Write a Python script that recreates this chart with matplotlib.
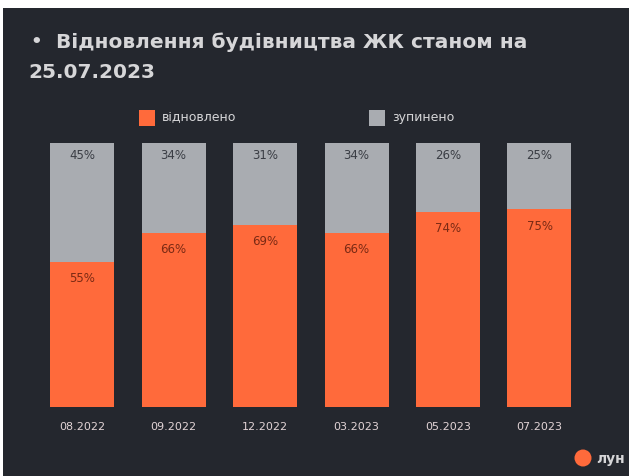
import matplotlib
matplotlib.use("Agg")
import matplotlib.pyplot as plt
from matplotlib.patches import Rectangle, Ellipse

periods = ["08.2022", "09.2022", "12.2022", "03.2023", "05.2023", "07.2023"]
restored = [55, 66, 69, 66, 74, 75]
stopped = [45, 34, 31, 34, 26, 25]

W, H = 631, 476
BG = "#24272e"
ORANGE = "#ff6a3b"
GREY = "#a9acb1"
TEXT = "#d6d6d8"

fig = plt.figure(figsize=(W / 100, H / 100), dpi=100)
fig.patch.set_facecolor("white")

def fx(px):
    return px / W

def fy(py):
    return 1 - py / H

# dark slide panel
fig.patches.append(Rectangle((fx(3), 0), fx(626), fy(8), transform=fig.transFigure,
                             facecolor=BG, edgecolor="none", zorder=-10))

# title
fig.text(fx(30), fy(42), "•", color=TEXT, fontsize=13, va="center", ha="left", fontweight="bold")
fig.text(fx(56), fy(42), "Відновлення будівництва ЖК станом на", color=TEXT,
         fontsize=14.5, va="center", ha="left", fontweight="bold")
fig.text(fx(28), fy(72), "25.07.2023", color=TEXT, fontsize=14.5, va="center",
         ha="left", fontweight="bold")

# legend
fig.patches.append(Rectangle((fx(139), fy(126)), fx(16), 16 / H, transform=fig.transFigure,
                             facecolor=ORANGE, edgecolor="none"))
fig.text(fx(162), fy(118), "відновлено", color=TEXT, fontsize=9, va="center", ha="left")
fig.patches.append(Rectangle((fx(369), fy(126)), fx(16), 16 / H, transform=fig.transFigure,
                             facecolor=GREY, edgecolor="none"))
fig.text(fx(392), fy(118), "зупинено", color=TEXT, fontsize=9, va="center", ha="left")

# bars
pitch = 91.5
left_px = 82 - pitch / 2
right_px = left_px + pitch * len(periods)
top_px, bot_px = 143, 407
ax = fig.add_axes([fx(left_px), fy(bot_px), fx(right_px - left_px), (bot_px - top_px) / H])
ax.set_zorder(5)
ax.set_facecolor("none")
ax.set_xlim(-0.5, len(periods) - 0.5)
ax.set_ylim(0, 100)
for s in ax.spines.values():
    s.set_visible(False)
ax.set_xticks([])
ax.set_yticks([])

x = list(range(len(periods)))
bw = 64 / pitch
ax.bar(x, restored, width=bw, color=ORANGE, edgecolor="none")
ax.bar(x, stopped, width=bw, bottom=restored, color=GREY, edgecolor="none")

for i, (r, s) in enumerate(zip(restored, stopped)):
    ax.text(i, 100 - 4.8, f"{s}%", ha="center", va="center", color="#3a3d44", fontsize=8.5)
    ax.text(i, r - 6.5, f"{r}%", ha="center", va="center", color="#7a2a14", fontsize=8.5)
    ax.text(i, -7.5, periods[i], ha="center", va="center", color="#e2d4d6", fontsize=8,
            clip_on=False)

# logo
fig.patches.append(Ellipse((fx(583), fy(458)), 17 / W, 17 / H, transform=fig.transFigure,
                           facecolor=ORANGE, edgecolor="none"))
fig.text(fx(596), fy(459), "лун", color=TEXT, fontsize=10, va="center", ha="left",
         fontweight="bold")

fig.savefig("out.png", dpi=100, facecolor=fig.get_facecolor())
